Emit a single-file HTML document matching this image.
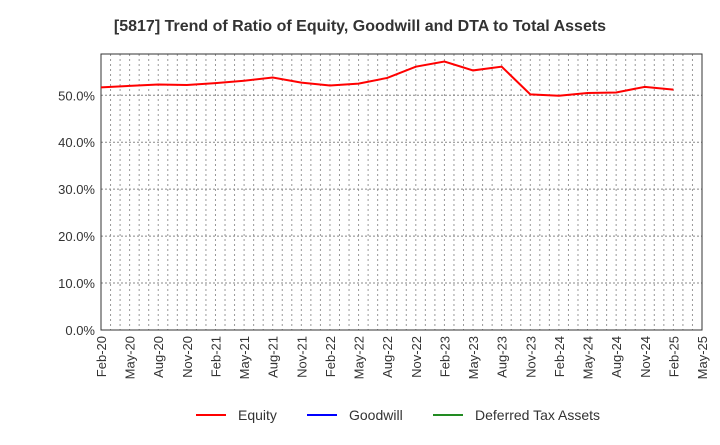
<!DOCTYPE html>
<html><head><meta charset="utf-8"><style>
body{margin:0;background:#fff;font-family:"Liberation Sans",sans-serif}
svg text{font-family:"Liberation Sans",sans-serif}
</style></head><body>
<svg id="c" width="720" height="440">
<text x="360" y="31" text-anchor="middle" font-size="16" font-weight="bold" fill="#333">[5817]  Trend of Ratio of Equity, Goodwill and DTA to Total Assets</text>
<g id="grid"></g><g id="axes"></g><g id="series"></g>
<g>
<line x1="196" y1="415" x2="226" y2="415" stroke="#f00" stroke-width="2"/>
<text x="238" y="420" font-size="14" fill="#333">Equity</text>
<line x1="307" y1="415" x2="337" y2="415" stroke="#00f" stroke-width="2"/>
<text x="349" y="420" font-size="14" fill="#333">Goodwill</text>
<line x1="433" y1="415" x2="463" y2="415" stroke="#228b22" stroke-width="2"/>
<text x="475" y="420" font-size="14" fill="#333">Deferred Tax Assets</text>
</g>
</svg>
<script>
const categories=["Feb-20","May-20","Aug-20","Nov-20","Feb-21","May-21","Aug-21","Nov-21","Feb-22","May-22","Aug-22","Nov-22","Feb-23","May-23","Aug-23","Nov-23","Feb-24","May-24","Aug-24","Nov-24","Feb-25","May-25"];
const equity=[51.7,52.0,52.3,52.2,52.6,53.1,53.8,52.7,52.1,52.5,53.7,56.1,57.2,55.3,56.1,50.2,49.9,50.5,50.6,51.8,51.2];
const yTicks=[0,10,20,30,40,50];
const yTickLabels=["0.0%","10.0%","20.0%","30.0%","40.0%","50.0%"];
const L=101,R=702,T=54,B=330,YMAX=58.8,MONTHS=63;
const NS="http://www.w3.org/2000/svg";
const x=i=>L+i*3*(R-L)/MONTHS, xm=m=>L+m*(R-L)/MONTHS, y=v=>B-v/YMAX*(B-T);
function mk(t,a,p){const e=document.createElementNS(NS,t);for(const k in a)e.setAttribute(k,a[k]);p.appendChild(e);return e;}
const g=document.getElementById('grid'),ax=document.getElementById('axes'),s=document.getElementById('series');
for(let m=1;m<MONTHS;m++){const l=mk('line',{x1:xm(m),x2:xm(m),y1:T,y2:B,stroke:'#999','stroke-dasharray':'2,3','stroke-width':1},g);

}
yTicks.forEach((v,i)=>{if(v>0){const l=mk('line',{x1:L,x2:R,y1:y(v),y2:y(v),stroke:'#888','stroke-dasharray':'2,2','stroke-width':1},g);

}
const t=mk('text',{x:L-6,y:y(v)+5,'text-anchor':'end','font-size':13,fill:'#333'},ax);t.textContent=yTickLabels[i];

});
categories.forEach((c,i)=>{const t=mk('text',{transform:`translate(${x(i)+5},${B+6}) rotate(-90)`,'text-anchor':'end','font-size':13,fill:'#333'},ax);t.textContent=c;

});
const fr=mk('rect',{x:L,y:T,width:R-L,height:B-T,fill:'none',stroke:'#333','stroke-width':1},ax);


const p=mk('polyline',{points:equity.map((v,i)=>x(i)+','+y(v)).join(' '),fill:'none',stroke:'#f00','stroke-width':2},s);


</script>
</body></html>
